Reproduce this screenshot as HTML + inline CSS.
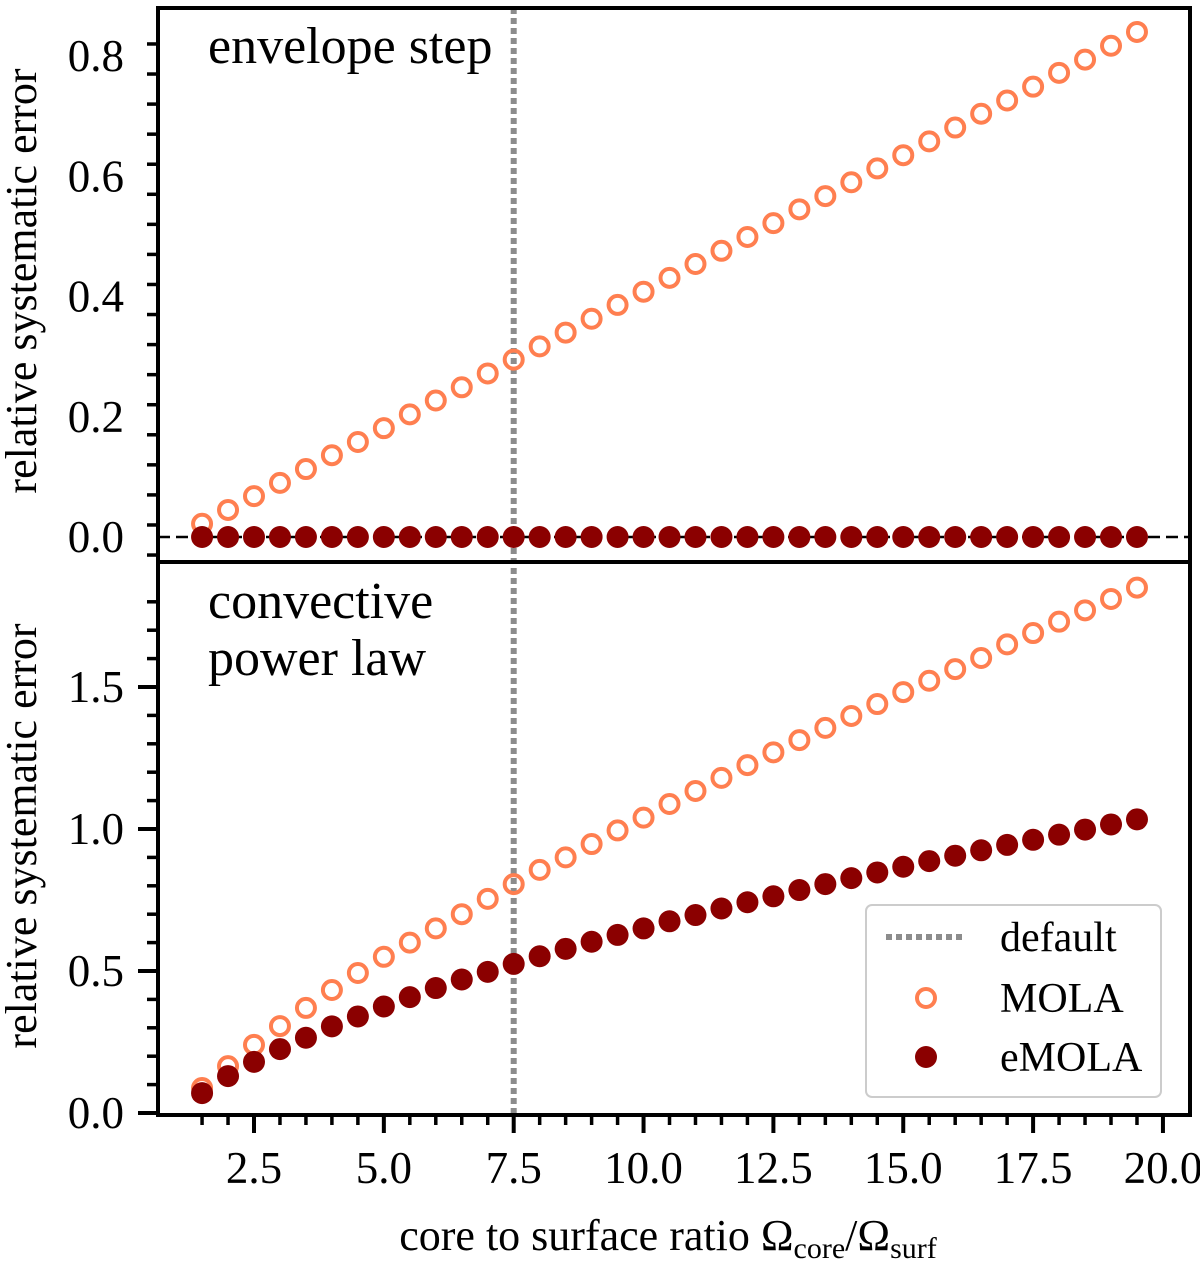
<!DOCTYPE html>
<html><head><meta charset="utf-8"><style>
body{margin:0;background:#fff}
svg{display:block;font-family:"Liberation Serif","DejaVu Serif",serif}
</style></head><body>
<svg id="chart" width="1200" height="1264" xmlns="http://www.w3.org/2000/svg"></svg>
<script>
const xVals=[1.5,2,2.5,3,3.5,4,4.5,5,5.5,6,6.5,7,7.5,8,8.5,9,9.5,10,10.5,11,11.5,12,12.5,13,13.5,14,14.5,15,15.5,16,16.5,17,17.5,18,18.5,19,19.5];
const topMola=[0.022,0.045,0.068,0.09,0.113,0.136,0.158,0.181,0.204,0.227,0.249,0.272,0.295,0.317,0.340,0.363,0.386,0.408,0.431,0.454,0.476,0.499,0.522,0.545,0.567,0.590,0.613,0.635,0.658,0.681,0.704,0.726,0.749,0.772,0.794,0.817,0.840];
const topEmola=[0,0,0,0,0,0,0,0,0,0,0,0,0,0,0,0,0,0,0,0,0,0,0,0,0,0,0,0,0,0,0,0,0,0,0,0,0];
const botMola=[0.088,0.165,0.24,0.306,0.37,0.433,0.493,0.55,0.60,0.65,0.70,0.754,0.806,0.856,0.90,0.947,0.995,1.04,1.088,1.134,1.18,1.225,1.27,1.313,1.356,1.398,1.44,1.482,1.522,1.563,1.602,1.65,1.69,1.73,1.77,1.81,1.85];
const botEmola=[0.07,0.13,0.18,0.225,0.265,0.305,0.34,0.375,0.408,0.44,0.47,0.497,0.525,0.552,0.578,0.603,0.627,0.65,0.675,0.697,0.72,0.742,0.763,0.785,0.806,0.827,0.847,0.867,0.887,0.906,0.925,0.944,0.962,0.98,0.998,1.016,1.034];
const xTicks=[2.5,5.0,7.5,10.0,12.5,15.0,17.5,20.0];
const topTicks=[0.0,0.2,0.4,0.6,0.8];
const botTicks=[0.0,0.5,1.0,1.5];

const NS="http://www.w3.org/2000/svg";
const svg=document.getElementById('chart');
function mk(t,a,p){const e=document.createElementNS(NS,t);for(const k in a)e.setAttribute(k,a[k]);(p||svg).appendChild(e);return e;}
const L=158,R=1190;
const X=v=>254+(v-2.5)*51.94;
const Yt=v=>537-v*601.25;
const Yb=v=>1113-v*284;

for(let v=1.5;v<=20.01;v+=0.5){const maj=xTicks.some(t=>Math.abs(t-v)<1e-6);
 const t=mk('line',{x1:X(v),x2:X(v),y1:1115,y2:maj?1133:1125,stroke:'#000','stroke-width':maj?4:3.5});
 }
xTicks.forEach(v=>{const t=mk('text',{x:X(v),y:1183,'font-size':45,'text-anchor':'middle'});t.textContent=v.toFixed(1);
 });
for(let v=-0.03;v<=0.87;v+=0.05){const vv=Math.round(v*100)/100;const yy=Yt(vv);if(yy<10||yy>560)continue;
 const maj=topTicks.some(t=>Math.abs(t-vv)<1e-6);
 const t=mk('line',{x1:maj?138:147,x2:L,y1:yy,y2:yy,stroke:'#000','stroke-width':maj?4:3.5});
 }
topTicks.forEach(v=>{const t=mk('text',{x:124,y:Yt(v)+15,'font-size':45,'text-anchor':'end'});t.textContent=v.toFixed(1);
 });
for(let i=0;i<=18;i++){const v=i/10;const yy=Yb(v);if(yy<565)continue;
 const maj=botTicks.some(t=>Math.abs(t-v)<1e-6);
 const t=mk('line',{x1:maj?138:147,x2:L,y1:yy,y2:yy,stroke:'#000','stroke-width':maj?4:3.5});
 }
botTicks.forEach(v=>{const t=mk('text',{x:124,y:Yb(v)+15,'font-size':45,'text-anchor':'end'});t.textContent=v.toFixed(1);
 });

let d=mk('line',{x1:X(7.5),x2:X(7.5),y1:8,y2:1115,stroke:'#8c8c8c','stroke-width':6,'stroke-dasharray':'6 4'});

d=mk('line',{x1:L,x2:R,y1:Yt(0),y2:Yt(0),stroke:'#000','stroke-width':2.5,'stroke-dasharray':'12 6'});


function pts(xs,ys,Y,filled,name){xs.forEach((x,i)=>{
 const c=mk('circle',filled?{cx:X(x),cy:Y(ys[i]),r:11,fill:'#8b0000'}:{cx:X(x),cy:Y(ys[i]),r:9,fill:'none',stroke:'#ff7f50','stroke-width':4});
 });}
pts(xVals,topMola,Yt,false,'mola-point-top');
pts(xVals,topEmola,Yt,true,'emola-point-top');
pts(xVals,botMola,Yb,false,'mola-point-bottom');
pts(xVals,botEmola,Yb,true,'emola-point-bottom');

d=mk('rect',{x:L,y:8,width:R-L,height:554,fill:'none',stroke:'#000','stroke-width':4});

d=mk('rect',{x:L,y:562,width:R-L,height:553,fill:'none',stroke:'#000','stroke-width':4});


function txt(s,a,name){const t=mk('text',a);t.textContent=s;return t;}
txt('envelope step',{x:208,y:63,'font-size':52},'top-panel-title');
txt('convective',{x:208,y:618,'font-size':52},'bottom-panel-title-line1');
txt('power law',{x:208,y:675,'font-size':52},'bottom-panel-title-line2');
txt('relative systematic error',{x:0,y:0,'font-size':44,'text-anchor':'middle',transform:'translate(36,281) rotate(-90)'},'y-axis-title-top');
txt('relative systematic error',{x:0,y:0,'font-size':44,'text-anchor':'middle',transform:'translate(36,836) rotate(-90)'},'y-axis-title-bottom');
const xt=txt('',{x:668,y:1250,'font-size':44,'text-anchor':'middle'},'x-axis-title');
xt.innerHTML='core to surface ratio Ω<tspan font-size="30" dy="8">core</tspan><tspan dy="-8">/Ω</tspan><tspan font-size="30" dy="8">surf</tspan>';

const lg=mk('g',{});
mk('rect',{x:866,y:905,width:295,height:192,rx:6,fill:'#fff',stroke:'#ccc','stroke-width':2},lg);
mk('line',{x1:886,x2:966,y1:937,y2:937,stroke:'#8c8c8c','stroke-width':6,'stroke-dasharray':'6 4'},lg);
mk('circle',{cx:926,cy:998,r:9,fill:'none',stroke:'#ff7f50','stroke-width':4},lg);
mk('circle',{cx:926,cy:1057,r:11,fill:'#8b0000'},lg);
let e=mk('text',{x:1000,y:951,'font-size':42},lg);e.textContent='default';
e=mk('text',{x:1000,y:1012,'font-size':42},lg);e.textContent='MOLA';
e=mk('text',{x:1000,y:1071,'font-size':42},lg);e.textContent='eMOLA';
</script>
</body></html>
